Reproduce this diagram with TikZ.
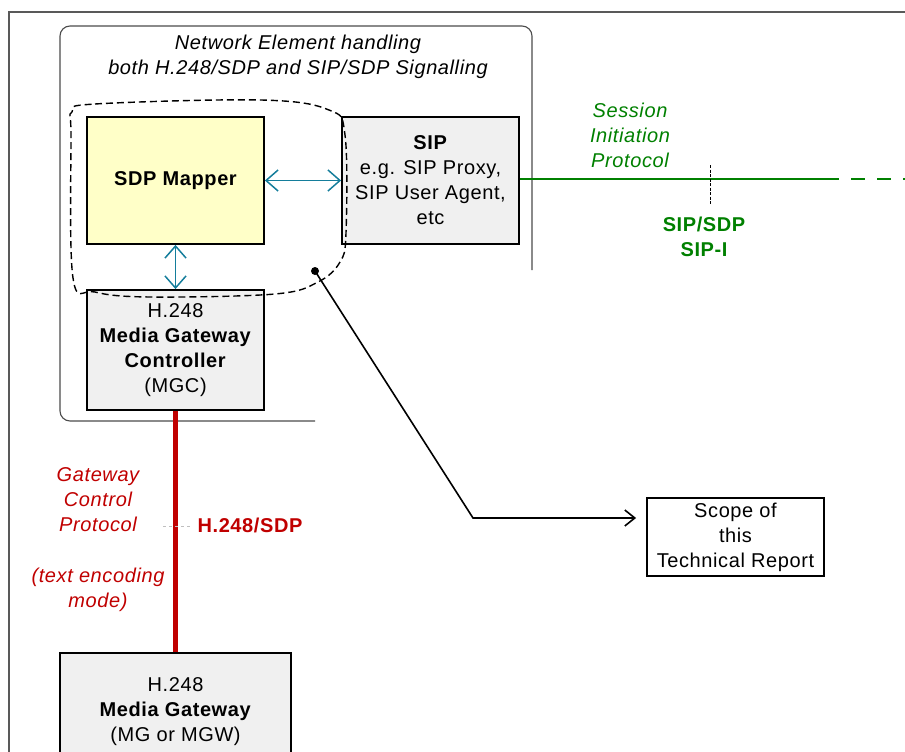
\documentclass[tikz,border=0pt]{standalone}
\usepackage{fontspec}
\setmainfont{Liberation Sans}[LetterSpace=3]
\usetikzlibrary{arrows.meta,positioning}

\definecolor{mapperyellow}{RGB}{255,255,200}
\definecolor{boxgrey}{RGB}{240,240,240}
\definecolor{linkteal}{RGB}{20,125,155}
\definecolor{sipgreen}{RGB}{0,128,0}
\definecolor{h248red}{RGB}{192,0,0}

\newcommand{\labelfont}{\fontsize{20}{25}\selectfont}

\tikzset{
    every node/.style={font=\labelfont, align=center},
    note/.style={font=\labelfont\itshape},
    tag/.style={font=\labelfont\bfseries},
    unit/.style={draw, line width=1.8pt, fill=boxgrey, minimum width=177pt, inner sep=0pt},
    link/.style={linkteal, line width=1.5pt,
        {Straight Barb[length=12pt,width=21pt]}-{Straight Barb[length=12pt,width=21pt]}},
}

\begin{document}
\begin{tikzpicture}[x=1pt, y=-1pt]
        \clip (0,0) rectangle (905,752);
        % page frame and network element outline
        \draw[gray!70!black, line width=1.8pt] (905,12) -- (9,12) -- (9,760);
        \draw[gray!60!black, line width=1.1pt, rounded corners=10pt]
            (315,421) -- (60,421) -- (60,26) -- (532,26) -- (532,270);
        \node[note] (title) at (298,57) {Network Element handling\\both H.248/SDP and SIP/SDP Signalling};

        % functional blocks
        \node[unit, tag, fill=mapperyellow, minimum height=127pt] (mapper) at (175.5,180.5) {SDP Mapper};
        \node[unit, minimum height=127pt] (sip) at (430.5,180.5) {\textbf{SIP}\\e.g. SIP Proxy,\\SIP User Agent,\\etc};
        \node[unit, minimum height=120pt] (mgc) at (175.5,350) {H.248\\\textbf{Media Gateway}\\\textbf{Controller}\\(MGC)};
        \node[unit, minimum width=231pt, minimum height=117pt] (mg) at (175.5,711.5) {H.248\\\textbf{Media Gateway}\\(MG or MGW)};
        \node[draw, line width=1.8pt, minimum width=177pt, minimum height=78pt, inner sep=0pt] (scope) at (735.5,537) {Scope of\\this\\Technical Report};

        \draw[link] (mapper.east) -- (sip.west);
        \draw[link] (mapper.south) -- (mgc.north);

        % SIP side
        \coordinate (sipcut) at (825,179);
        \coordinate (sipfar) at (905,179);
        \coordinate (tickup) at (710,165);
        \coordinate (tickdn) at (710,205);
        \draw[sipgreen, line width=2.4pt] (sip.east |- sipcut) -- (sipcut);
        \draw[sipgreen, line width=2.4pt, dash pattern=on 14pt off 12pt] (sipcut) -- (sipfar);
        \draw[line width=1pt, dash pattern=on 3pt off 1.5pt] (tickup) -- (tickdn);
        \node[note, text=sipgreen] (sipname) at (630,135) {Session\\Initiation\\Protocol};
        \node[tag, text=sipgreen] (sipproto) at (704,237) {SIP/SDP\\SIP-I};

        % H.248 side
        \coordinate (gcpleft) at (163,526);
        \coordinate (gcpright) at (190,526);
        \draw[h248red, line width=5pt] (mgc.south) -- (mg.north);
        \draw[gray!50, line width=0.8pt, dashed] (gcpleft) -- (gcpright);
        \node[note, text=h248red] (gcp) at (98,500) {Gateway\\Control\\Protocol};
        \node[note, text=h248red] (textmode) at (98,590) {(text encoding\\mode)};
        \node[tag, text=h248red] (h248sdp) at (250,525) {H.248/SDP};

        % scope of the report
        \draw[line width=1.4pt, dash pattern=on 7pt off 4pt]
            plot[smooth cycle, tension=0.6] coordinates {(72,112) (95,104) (261,100) (329,110) (345,135)
                (346,233) (340,262) (318,282) (275,294) (150,297) (95,292) (73,278) (71,135)};
        \coordinate (scopedot) at (315,271);
        \coordinate (scopebend) at (473,518);
        \fill (scopedot) circle (4pt);
        \draw[line width=1.6pt, -{Straight Barb[length=10pt,width=16pt]}, shorten >=10pt]
            (scopedot) -- (scopebend) -- (scopebend -| scope.west);
\end{tikzpicture}
\end{document}
